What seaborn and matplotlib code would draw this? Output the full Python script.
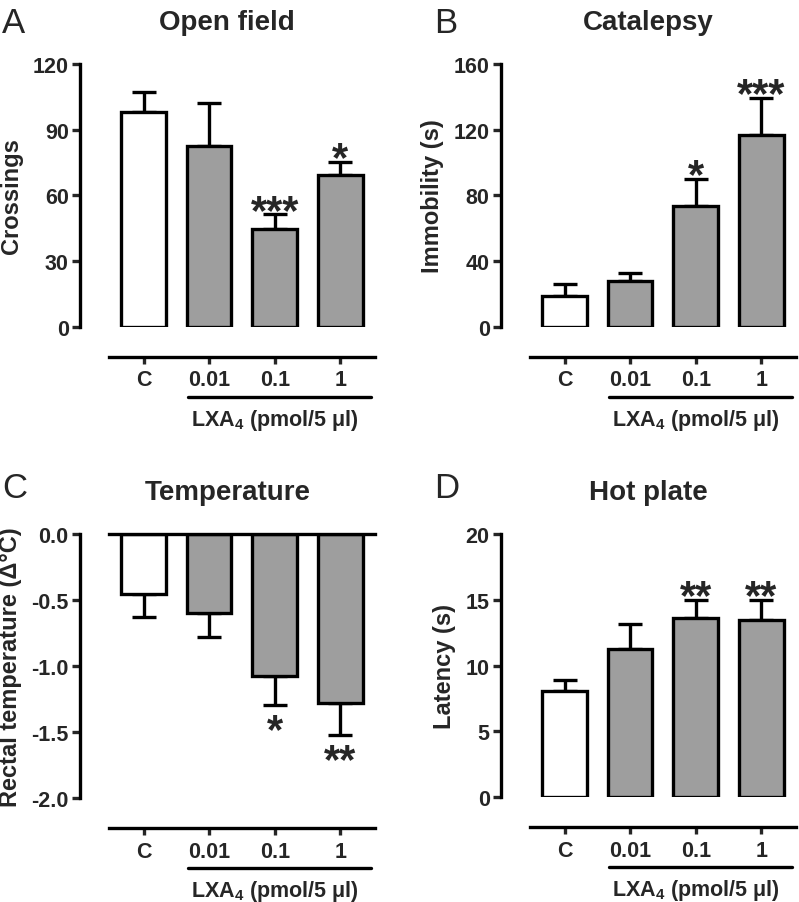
import numpy as np
import pandas as pd
import matplotlib
matplotlib.use('Agg')
import matplotlib.pyplot as plt
import matplotlib.transforms as mtransforms
import seaborn as sns

sns.set_style('ticks')
plt.rcParams['font.family'] = ['Liberation Sans', 'DejaVu Sans']
plt.rcParams['font.weight'] = 'bold'
plt.rcParams['mathtext.fontset'] = 'custom'
plt.rcParams['mathtext.rm'] = 'Liberation Sans:bold'
plt.rcParams['mathtext.default'] = 'rm'

# data (mean, SEM)
doses = ['C', '0.01', '0.1', '1']
bar_colors = ['white', '#9e9e9e', '#9e9e9e', '#9e9e9e']

open_field_mean = [98, 82.5, 44.5, 69.3]
open_field_sem = [9, 19.5, 6.8, 6]
open_field_stars = ['', '', '***', '*']

catalepsy_mean = [19, 28.2, 73.8, 116.4]
catalepsy_sem = [7.2, 4.6, 16.2, 23]
catalepsy_stars = ['', '', '*', '***']

temperature_mean = [-0.45, -0.595, -1.07, -1.275]
temperature_sem = [0.175, 0.18, 0.22, 0.245]
temperature_stars = ['', '', '*', '**']

hot_plate_mean = [8.1, 11.3, 13.6, 13.5]
hot_plate_sem = [0.8, 1.9, 1.4, 1.5]
hot_plate_stars = ['', '', '**', '**']

LW = 2.4


def draw_panel(ax, means, sems, stars, ylim, yticks, ylabel, title, negative=False):
    df = pd.DataFrame({'dose': doses, 'value': means})
    sns.barplot(data=df, x='dose', y='value', hue='dose', palette=bar_colors,
                order=doses, hue_order=doses, legend=False, width=0.68,
                edgecolor='black', linewidth=LW, ax=ax, zorder=2)
    x = np.arange(len(doses))
    if negative:
        yerr = [sems, [0] * len(sems)]
    else:
        yerr = [[0] * len(sems), sems]
    ax.errorbar(x, means, yerr=yerr, fmt='none', ecolor='black',
                elinewidth=LW, capsize=8.6, capthick=LW, zorder=1)

    for xi, m, s, st in zip(x, means, sems, stars):
        if not st:
            continue
        if negative:
            ax.annotate(st, (xi, m - s), xytext=(0, -19), textcoords='offset points',
                        ha='center', va='center', fontsize=30, fontweight='bold')
        else:
            ax.annotate(st, (xi, m + s), xytext=(0, 2), textcoords='offset points',
                        ha='center', va='center', fontsize=30, fontweight='bold')

    ax.set_xlim(-0.53, 3.53)
    ax.set_ylim(*ylim)
    ax.set_yticks(yticks)
    if negative:
        ax.set_yticklabels([f'{t:.1f}' for t in yticks])
    ax.set_xticks(x)
    ax.set_xticklabels(doses)
    ax.set_xlabel('')
    ax.set_ylabel(ylabel, fontsize=17, fontweight='bold', labelpad=7)

    sns.despine(ax=ax, top=not negative)
    ax.spines['left'].set_position(('outward', 21))
    ax.spines['bottom'].set_position(('outward', 21.6))
    for sp in ['left', 'bottom', 'top']:
        ax.spines[sp].set_linewidth(LW)
        ax.spines[sp].set_color('black')
    ax.tick_params(axis='y', length=6, width=LW, labelsize=15.5, pad=2)
    ax.tick_params(axis='x', length=5, width=LW, labelsize=15.5, pad=4)
    for lab in ax.get_xticklabels() + ax.get_yticklabels():
        lab.set_fontweight('bold')

    # dose group bracket
    trans = mtransforms.blended_transform_factory(ax.transData, ax.transAxes)
    ax.plot([0.67, 3.47], [-0.265, -0.265], color='black', lw=LW,
            transform=trans, clip_on=False)
    ax.text(2.0, -0.35, r'LXA$_{4}$ (pmol/5 μl)', transform=trans,
            ha='center', va='center', fontsize=15.5, fontweight='bold')

    ax.text(0.445, 1.133, title, transform=ax.transAxes, ha='center',
            va='baseline', fontsize=20, fontweight='bold')


fig = plt.figure(figsize=(7.99, 9.03), dpi=100)
ax_a = fig.add_axes([0.1364, 0.6368, 0.3329, 0.2915])
ax_b = fig.add_axes([0.6633, 0.6368, 0.3329, 0.2915])
ax_c = fig.add_axes([0.1364, 0.1150, 0.3329, 0.2920])
ax_d = fig.add_axes([0.6633, 0.1160, 0.3329, 0.2915])

draw_panel(ax_a, open_field_mean, open_field_sem, open_field_stars,
           (0, 120), [0, 30, 60, 90, 120], 'Crossings', 'Open field')
draw_panel(ax_b, catalepsy_mean, catalepsy_sem, catalepsy_stars,
           (0, 160), [0, 40, 80, 120, 160], 'Immobility (s)', 'Catalepsy')
draw_panel(ax_c, temperature_mean, temperature_sem, temperature_stars,
           (-2.0, 0.0), [0.0, -0.5, -1.0, -1.5, -2.0],
           'Rectal temperature (Δ°C)', 'Temperature', negative=True)
draw_panel(ax_d, hot_plate_mean, hot_plate_sem, hot_plate_stars,
           (0, 20), [0, 5, 10, 15, 20], 'Latency (s)', 'Hot plate')

for letter, x, y in [('A', 0.003, 0.9635), ('B', 0.543, 0.9635),
                     ('C', 0.003, 0.448), ('D', 0.543, 0.448)]:
    fig.text(x, y, letter, fontsize=25, fontweight='normal', va='baseline')

fig.savefig('out.png', dpi=100)
